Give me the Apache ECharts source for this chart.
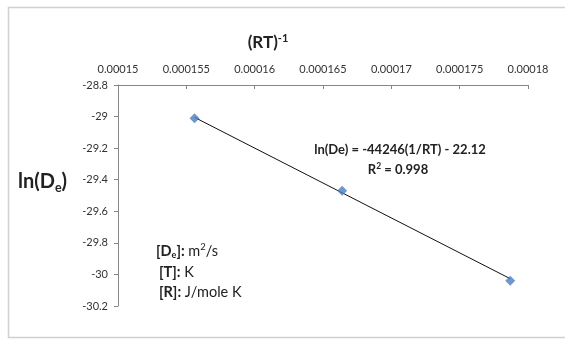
<!DOCTYPE html>
<html><head><meta charset="utf-8">
<script src="https://cdn.jsdelivr.net/npm/echarts@6/dist/echarts.min.js"></script>
<style>html,body{margin:0;padding:0;background:#fff}#c{width:565px;height:340px}</style>
</head><body><div id="c"></div>
<script>
// Data
const xTicks = [0.00015, 0.000155, 0.00016, 0.000165, 0.00017, 0.000175, 0.00018];
const yTicks = [-28.8, -29, -29.2, -29.4, -29.6, -29.8, -30, -30.2];
const invRT = [0.0001556, 0.0001664, 0.0001787];
const lnDe = [-29.01, -29.47, -30.04];
const trendX = [0.0001556, 0.0001787];
const trendY = [-29.005, -30.027];
const eqText = 'ln(De) = -44246(1/RT) - 22.12';
const r2Value = '0.998';

const FONT = 'Lato, "Open Sans", sans-serif';
const C = '#222';
const chart = echarts.init(document.getElementById('c'), null, {renderer: 'canvas'});
const xInterval = +(xTicks[1] - xTicks[0]).toPrecision(3);
const yInterval = +Math.abs(yTicks[1] - yTicks[0]).toPrecision(3);

function tok(size, bold, lh, va) {
  return {fontSize: size, fontWeight: bold ? 'bold' : 'normal', fontFamily: FONT, fill: C, lineHeight: lh, verticalAlign: va};
}

chart.setOption({
  animation: false,
  backgroundColor: '#fff',
  grid: {left: 118, right: 37, top: 85, bottom: 34, containLabel: false},
  xAxis: {
    type: 'value', position: 'top',
    min: xTicks[0], max: xTicks[xTicks.length - 1], interval: xInterval,
    axisLine: {show: true, onZero: false, lineStyle: {color: '#868686', width: 1}},
    axisTick: {show: true, inside: true, length: 4, lineStyle: {color: '#868686'}},
    splitLine: {show: false},
    axisLabel: {color: '#333', fontSize: 11, fontFamily: FONT, margin: 10,
      formatter: v => String(+(+v).toPrecision(6))}
  },
  yAxis: {
    type: 'value',
    min: yTicks[yTicks.length - 1], max: yTicks[0], interval: yInterval,
    axisLine: {show: true, onZero: false, lineStyle: {color: '#868686', width: 1}},
    axisTick: {show: true, inside: false, length: 4, lineStyle: {color: '#868686'}},
    splitLine: {show: false},
    axisLabel: {color: '#333', fontSize: 11, fontFamily: FONT, margin: 10,
      formatter: v => String(+(+v).toFixed(1))}
  },
  series: [
    {
      type: 'line', data: trendX.map((x, i) => [x, trendY[i]]),
      symbol: 'none', lineStyle: {color: '#111', width: 1}, z: 2, silent: true
    },
    {
      type: 'scatter', data: invRT.map((x, i) => [x, lnDe[i]]),
      symbol: 'diamond', symbolSize: 10,
      itemStyle: {color: '#4a7ebb'}, z: 3
    }
  ],
  graphic: [
    {type: 'rect', shape: {x: 8.5, y: 7.5, width: 600, height: 330},
      style: {fill: 'none', stroke: '#d0d0d0', lineWidth: 1.5}, silent: true, z: 0},
    {type: 'text', x: 268, y: 43, style: {
      text: '{a|(RT)}{s|-1}', align: 'center', verticalAlign: 'middle',
      rich: {a: tok(17, true, 20, 'middle'), s: tok(11, true, 10, 'top')}}},
    {type: 'text', x: 18, y: 182, style: {
      text: '{a|ln(D}{b|e}{a|)}', align: 'left', verticalAlign: 'middle',
      rich: {a: tok(20, true, 24, 'middle'), b: tok(12.5, true, 9, 'bottom')}}},
    {type: 'text', x: 400, y: 150, style: {
      text: eqText, align: 'center', verticalAlign: 'middle',
      font: 'bold 13px ' + FONT, fill: C}},
    {type: 'text', x: 398, y: 170, style: {
      text: '{a|R}{s|2}{a| = ' + r2Value + '}', align: 'center', verticalAlign: 'middle',
      rich: {a: tok(13, true, 16, 'middle'), s: tok(8.5, true, 8, 'top')}}},
    {type: 'text', x: 156, y: 251, style: {
      text: '{b|[D}{bs|e}{b|]:}{n| m}{ns|2}{n|/s}', align: 'left', verticalAlign: 'middle',
      rich: {b: tok(14.5, true, 18, 'middle'), bs: tok(9, true, 7, 'bottom'),
             n: tok(14.5, false, 18, 'middle'), ns: tok(9.5, false, 9, 'top')}}},
    {type: 'text', x: 159, y: 272, style: {
      text: '{b|[T]:}{n| K}', align: 'left', verticalAlign: 'middle',
      rich: {b: tok(14.5, true, 18, 'middle'), n: tok(14.5, false, 18, 'middle')}}},
    {type: 'text', x: 159, y: 292, style: {
      text: '{b|[R]:}{n| J/mole K}', align: 'left', verticalAlign: 'middle',
      rich: {b: tok(14.5, true, 18, 'middle'), n: tok(14.5, false, 18, 'middle')}}}
  ]
});
</script></body></html>
